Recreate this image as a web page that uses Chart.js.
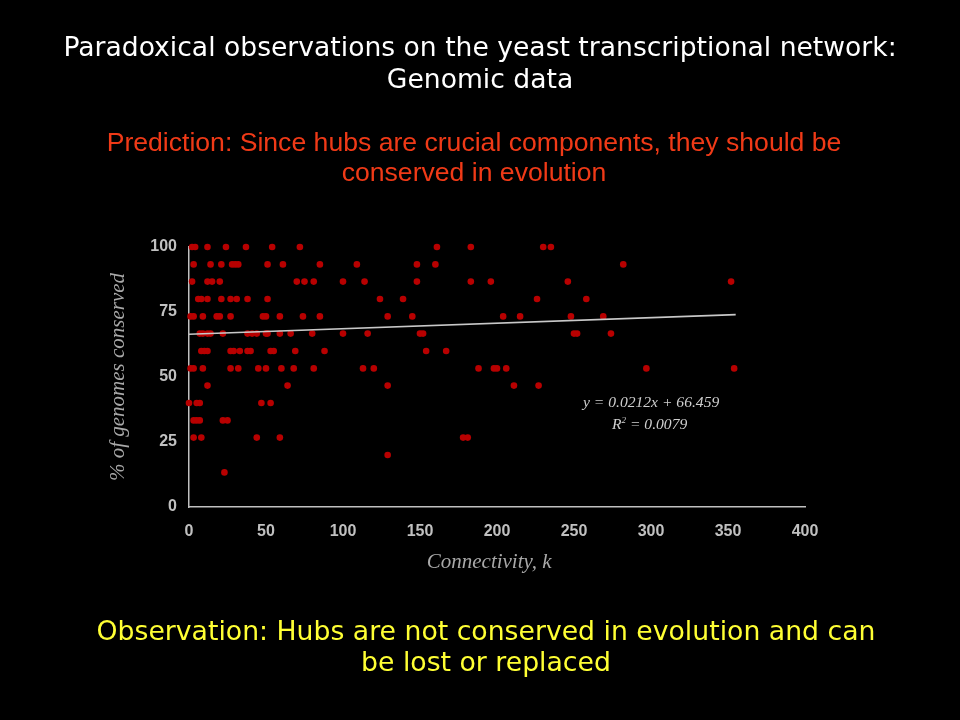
<!DOCTYPE html>
<html>
<head>
<meta charset="utf-8">
<script src="https://cdn.jsdelivr.net/npm/chart.js@4"></script>
<style>
  html, body { margin: 0; padding: 0; background: #000; }
  body { width: 960px; height: 720px; position: relative; overflow: hidden; }
  #chart { position: absolute; left: 0; top: 0; }
  .txt { position: absolute; left: 0; width: 960px; text-align: center; white-space: nowrap; }
  #title { top: 31px; font: 26.6px "DejaVu Sans", sans-serif; line-height: 32px; color: #fff; }
  #prediction { top: 127px; left: -6px; font: 26.6px "Liberation Sans", Arial, sans-serif; line-height: 30px; color: #f03a17; }
  #observation { top: 615px; left: 6px; font: 26.7px "DejaVu Sans", sans-serif; line-height: 31px; color: #ffff33; }
  .eq { position: absolute; font: italic 15.6px "Liberation Serif", serif; color: #cfcfcf; white-space: nowrap; }
</style>
</head>
<body>
<canvas id="chart" width="960" height="720"></canvas>
<div class="txt" id="title">Paradoxical observations on the yeast transcriptional network:<br>Genomic data</div>
<div class="txt" id="prediction">Prediction: Since hubs are crucial components, they should be<br>conserved in evolution</div>
<div class="txt" id="observation">Observation: Hubs are not conserved in evolution and can<br>be lost or replaced</div>
<div class="eq" id="eq1" style="left:583px; top:393px;">y = 0.0212x + 66.459</div>
<div class="eq" id="eq2" style="left:612px; top:415px;">R<sup style="font-size:9px">2</sup> = 0.0079</div>
<script>
// connectivity k and % of genomes conserved
var connectivity = [
    2, 4, 12, 24, 37, 54, 72, 161, 183, 230, 235,
    3, 14, 21, 28, 30, 32, 51, 61, 85, 109, 148, 160, 282,
    2, 12, 15, 20, 70, 75, 81, 100, 114, 148, 183, 196, 246, 352,
    6, 8, 12, 21, 27, 31, 38, 51, 124, 139, 226, 258,
    1, 3, 9, 18, 20, 27, 48, 50, 59, 74, 85, 129, 145, 204, 215, 248, 269,
    7, 9, 12, 14, 22, 38, 41, 44, 50, 51, 59, 66, 80, 100, 116, 150, 152, 250, 252, 274,
    8, 10, 12, 27, 29, 33, 38, 40, 53, 55, 69, 88, 154, 167,
    1, 3, 9, 27, 32, 45, 50, 60, 68, 81, 113, 120, 188, 198, 200, 206, 297, 354,
    12, 64, 129, 211, 227,
    0, 5, 7, 47, 53,
    3, 5, 7, 22, 25,
    3, 8, 44, 59, 178, 181,
    129,
    23
];
var conserved = [
    100, 100, 100, 100, 100, 100, 100, 100, 100, 100, 100,
    93.3, 93.3, 93.3, 93.3, 93.3, 93.3, 93.3, 93.3, 93.3, 93.3, 93.3, 93.3, 93.3,
    86.7, 86.7, 86.7, 86.7, 86.7, 86.7, 86.7, 86.7, 86.7, 86.7, 86.7, 86.7, 86.7, 86.7,
    80, 80, 80, 80, 80, 80, 80, 80, 80, 80, 80, 80,
    73.3, 73.3, 73.3, 73.3, 73.3, 73.3, 73.3, 73.3, 73.3, 73.3, 73.3, 73.3, 73.3, 73.3, 73.3, 73.3, 73.3,
    66.7, 66.7, 66.7, 66.7, 66.7, 66.7, 66.7, 66.7, 66.7, 66.7, 66.7, 66.7, 66.7, 66.7, 66.7, 66.7, 66.7, 66.7, 66.7, 66.7,
    60, 60, 60, 60, 60, 60, 60, 60, 60, 60, 60, 60, 60, 60,
    53.3, 53.3, 53.3, 53.3, 53.3, 53.3, 53.3, 53.3, 53.3, 53.3, 53.3, 53.3, 53.3, 53.3, 53.3, 53.3, 53.3, 53.3,
    46.7, 46.7, 46.7, 46.7, 46.7,
    40, 40, 40, 40, 40,
    33.3, 33.3, 33.3, 33.3, 33.3,
    26.7, 26.7, 26.7, 26.7, 26.7, 26.7,
    20,
    13.3
];
// linear fit shown on the slide
var trendK = [0, 355];
var slope = 0.0212;
var intercept = 66.459;

var xTicks = [0, 50, 100, 150, 200, 250, 300, 350, 400];
var yTicks = [0, 25, 50, 75, 100];

var points = connectivity.map(function (k, i) { return { x: k, y: conserved[i] }; });
var trend = trendK.map(function (k) { return { x: k, y: slope * k + intercept }; });

var axisGray = '#c0c0c0';
var tickFont = { family: '"Liberation Sans", Arial, sans-serif', size: 16, weight: 'bold' };
var titleFont = { family: '"Liberation Serif", serif', size: 21, style: 'italic' };

var ctx = document.getElementById('chart').getContext('2d');
var chart = new Chart(ctx, {
    type: 'scatter',
    data: {
        datasets: [{
            label: 'genes',
            data: points,
            backgroundColor: '#b80000',
            borderWidth: 0,
            pointRadius: 3.3,
            clip: false,
            order: 2
        }, {
            label: 'fit',
            type: 'line',
            data: trend,
            borderColor: '#c8c8c8',
            borderWidth: 1.6,
            pointRadius: 0,
            fill: false,
            order: 1
        }]
    },
    options: {
        responsive: false,
        animation: false,
        layout: { padding: { left: 100, right: 155, top: 247, bottom: 143 } },
        plugins: { legend: { display: false }, tooltip: { enabled: false } },
        scales: {
            x: {
                type: 'linear',
                min: 0, max: 400,
                afterBuildTicks: function (s) { s.ticks = xTicks.map(function (v) { return { value: v }; }); },
                afterFit: function (s) { s.height = 70; },
                grid: { display: false, drawOnChartArea: false, tickLength: 5, tickColor: axisGray },
                border: { color: axisGray, width: 1.5 },
                ticks: { color: axisGray, font: tickFont, padding: 10, maxRotation: 0 },
                // trailing spaces nudge the centred title a bit left, as on the slide
                title: { display: true, text: 'Connectivity, k\u00a0\u00a0\u00a0', color: '#a8a8a8', font: titleFont, padding: { top: 0, bottom: 1.5 } }
            },
            y: {
                type: 'linear',
                min: 0, max: 100,
                afterBuildTicks: function (s) { s.ticks = yTicks.map(function (v) { return { value: v }; }); },
                afterFit: function (s) { s.width = 89; },
                grid: { display: false, drawOnChartArea: false, tickLength: 5, tickColor: axisGray },
                border: { color: axisGray, width: 1.5 },
                ticks: { color: axisGray, font: tickFont, padding: 7 },
                title: { display: true, text: '% of genomes conserved', color: '#a8a8a8', font: titleFont, padding: { top: 5.5, bottom: 0 } }
            }
        }
    }
});
</script>
</body>
</html>
